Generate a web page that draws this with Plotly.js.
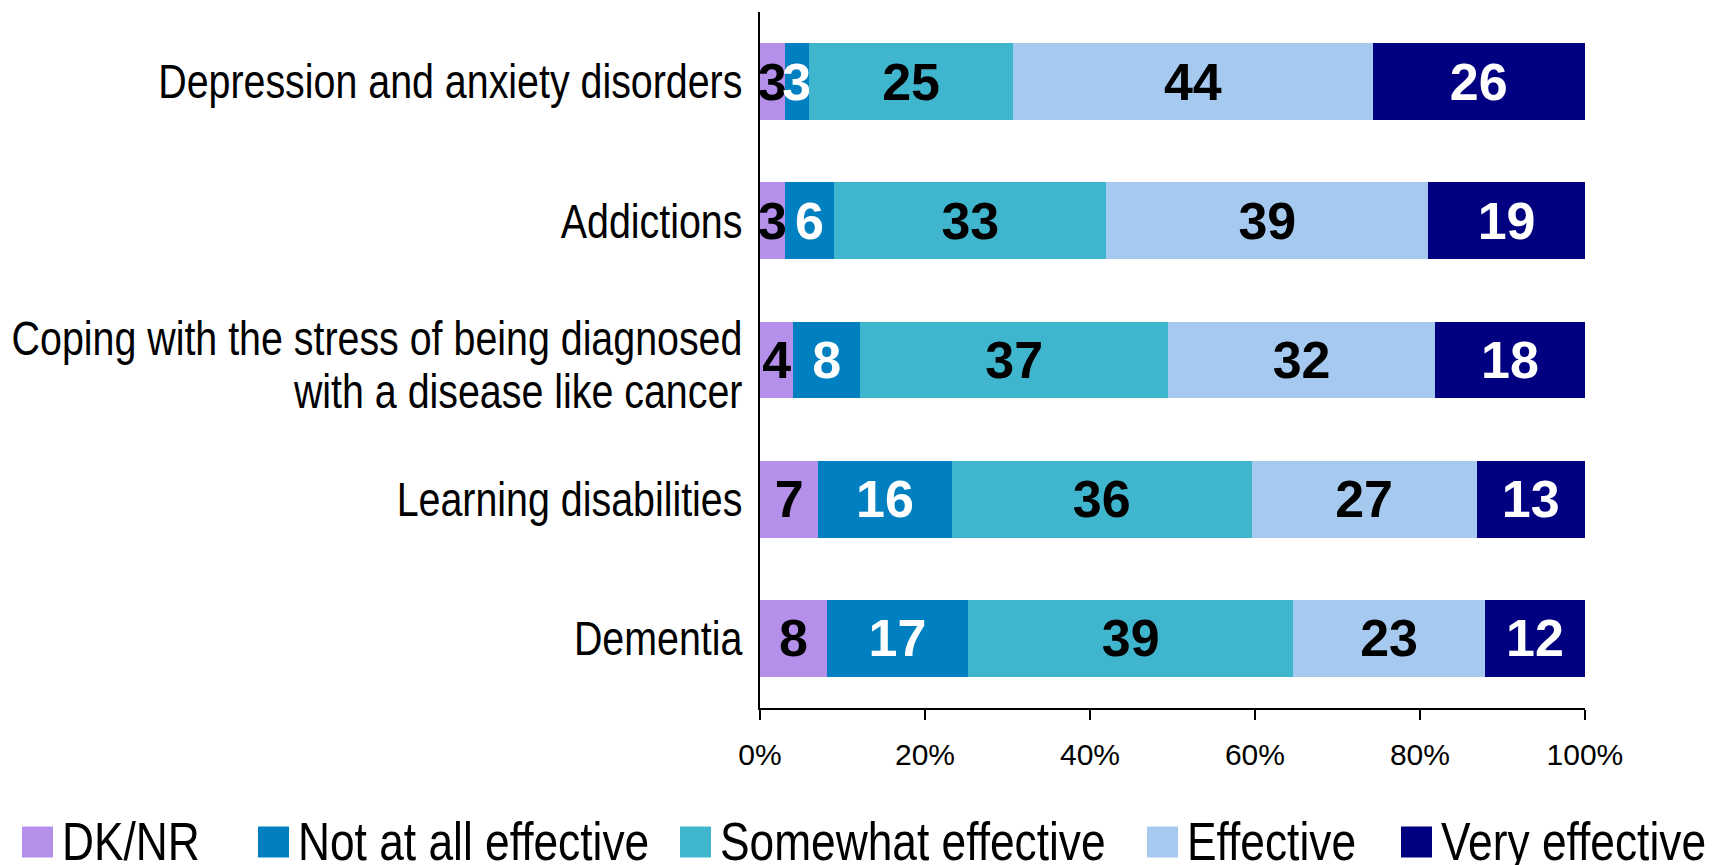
<!DOCTYPE html>
<html>
<head>
<meta charset="utf-8">
<script src="https://cdn.plot.ly/plotly-3.0.1.min.js"></script>
<style>
html, body { margin: 0; padding: 0; background: #ffffff; }
#chart { width: 1715px; height: 865px; }
</style>
</head>
<body>
<div id="chart"></div>
<script>
const categories = [
  'Depression and anxiety disorders',
  'Addictions',
  'Coping with the stress of being diagnosed<br>with a disease like cancer',
  'Learning disabilities',
  'Dementia'
];
const seriesNames = ['DK/NR', 'Not at all effective', 'Somewhat effective', 'Effective', 'Very effective'];
const dkNr = [3, 3, 4, 7, 8];
const notAtAllEffective = [3, 6, 8, 16, 17];
const somewhatEffective = [25, 33, 37, 36, 39];
const effective = [44, 39, 32, 27, 23];
const veryEffective = [26, 19, 18, 13, 12];
const xTickValues = [0, 20, 40, 60, 80, 100];

const seriesValues = [dkNr, notAtAllEffective, somewhatEffective, effective, veryEffective];
const seriesColors = ['#B490EB', '#0080C0', '#3FB6CE', '#A6CAEF', '#000080'];
const labelColors = ['#000000', '#FFFFFF', '#000000', '#000000', '#FFFFFF'];

const regular = '"Liberation Sans", Arial, sans-serif';
const NARROW = 0.82; // Arial Narrow width relative to Arial
const catFontSize = 48;

const traces = seriesNames.map((name, i) => ({
  type: 'bar',
  orientation: 'h',
  name: name,
  y: categories,
  x: seriesValues[i],
  text: seriesValues[i].map(String),
  texttemplate: '%{text}',
  textposition: 'inside',
  insidetextanchor: 'middle',
  textangle: 0,
  constraintext: 'none',
  cliponaxis: false,
  textfont: { family: regular, size: 52, color: labelColors[i], weight: 'bold' },
  marker: { color: seriesColors[i], line: { width: 0 } },
  showlegend: false,
  hoverinfo: 'skip'
}));

// Plot area in pixels
const L = 760, R = 1585, T = 12, B = 708;
const W = 1715, H = 865;
const pxToPaperX = px => (px - L) / (R - L);
const pxToPaperY = py => (B - py) / (B - T);

// custom legend (layout positions)
const legendSquareLeft = [22, 258, 680, 1147, 1401];
const sq = 31, legendCenterY = 841;
const shapes = [];
const annotations = [];
seriesNames.forEach((name, i) => {
  shapes.push({
    type: 'rect', xref: 'paper', yref: 'paper',
    x0: pxToPaperX(legendSquareLeft[i]), x1: pxToPaperX(legendSquareLeft[i] + sq),
    y0: pxToPaperY(legendCenterY + 1 + sq / 2), y1: pxToPaperY(legendCenterY + 1 - sq / 2),
    fillcolor: seriesColors[i], line: { width: 0 }
  });
  annotations.push({
    xref: 'paper', yref: 'paper',
    x: pxToPaperX(legendSquareLeft[i] + sq + 8), y: pxToPaperY(legendCenterY),
    xanchor: 'left', yanchor: 'middle', align: 'left',
    text: name, showarrow: false, borderpad: 0,
    font: { family: regular, size: 54, color: '#000000' }
  });
});

const layout = {
  width: W, height: H,
  margin: { l: L, r: W - R, t: T, b: H - B, pad: 0 },
  paper_bgcolor: '#ffffff',
  plot_bgcolor: '#ffffff',
  barmode: 'stack',
  barnorm: 'percent',
  bargap: 0.447,
  showlegend: false,
  xaxis: {
    range: [0, 100.01],
    tickvals: xTickValues,
    ticktext: xTickValues.map(v => v + '%'),
    ticks: 'outside', ticklen: 10, tickwidth: 2, tickcolor: '#000000',
    ticklabelstandoff: 9,
    showline: true, linecolor: '#000000', linewidth: 2,
    showgrid: false, zeroline: false,
    tickfont: { family: regular, size: 30, color: '#000000' },
    fixedrange: true
  },
  yaxis: {
    type: 'category',
    autorange: 'reversed',
    ticks: '',
    showline: true, linecolor: '#000000', linewidth: 2,
    showgrid: false, zeroline: false,
    ticklabelstandoff: 6,
    tickfont: { family: regular, size: catFontSize, color: '#000000' },
    fixedrange: true
  },
  shapes: shapes,
  annotations: annotations
};

function condense(el) {
  const len = el.getComputedTextLength();
  if (len > 0) {
    el.setAttribute('textLength', (len * NARROW).toFixed(2));
    el.setAttribute('lengthAdjust', 'spacingAndGlyphs');
  }
}
function toPx(v, fs) {
  if (!v) return 0;
  const n = parseFloat(v);
  return /em$/.test(v) ? n * fs : n;
}
function condenseTexts(selector, tightenLines) {
  document.querySelectorAll(selector).forEach(t => {
    const lines = t.querySelectorAll('tspan.line');
    if (lines.length) {
      if (tightenLines && lines.length === 2) {
        // tighter line spacing, as in the reference: move the first line down only
        const d0 = toPx(lines[0].getAttribute('dy'), catFontSize);
        lines[0].setAttribute('dy', (d0 + 9).toFixed(2));
      }
      lines.forEach(condense);
    } else condense(t);
  });
}

Plotly.newPlot('chart', traces, layout, { displayModeBar: false, staticPlot: true }).then(() => {
  condenseTexts('.ytick text', true);
  condenseTexts('.annotation-text', false);
});
</script>
</body>
</html>
